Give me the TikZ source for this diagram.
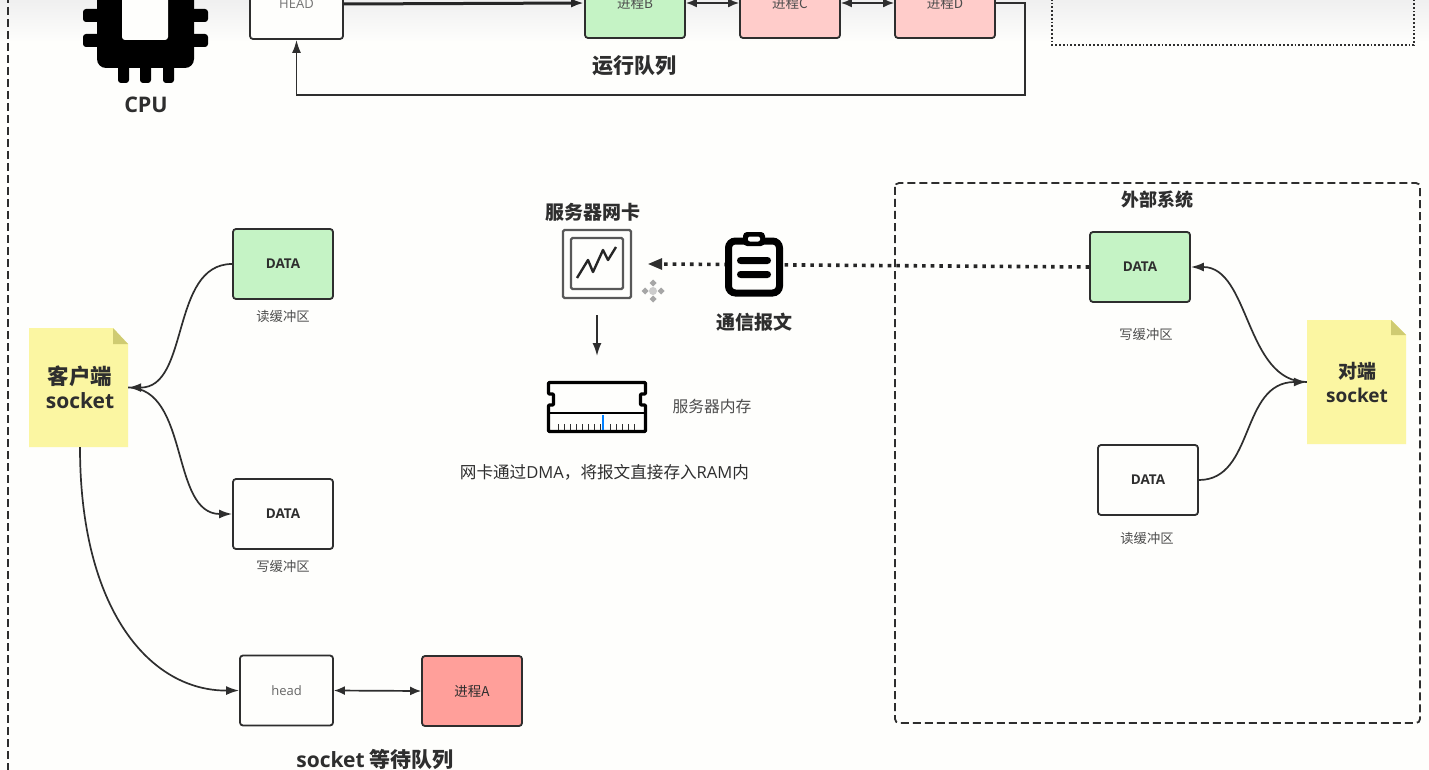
\documentclass[tikz,border=0pt]{standalone}
\usepackage{fontspec}
\setmainfont{Noto Sans CJK SC}
\newfontfamily\latf{Open Sans}
\usetikzlibrary{arrows.meta,calc}
\definecolor{ink}{HTML}{2E2E2E}
\definecolor{paper}{HTML}{FEFEFC}
\definecolor{greenbox}{HTML}{C5F3C5}
\definecolor{pinkbox}{HTML}{FFCCCA}
\definecolor{redbox}{HTML}{FF9F9A}
\definecolor{sticky}{HTML}{FBF6A2}
\definecolor{stickyfold}{HTML}{CFCB72}
\newcommand{\fs}[1]{\fontsize{#1}{#1}\selectfont}
\tikzset{
  x=1pt,y=-1pt,
  box/.style={draw=ink,line width=1.8pt,rounded corners=3pt,fill=paper,minimum width=#1,minimum height=70pt,inner sep=0pt,text=ink,font=\fs{13.5}},
  box/.default=100pt,
  databox/.style={box,font=\latf\bfseries\fs{13.5}},
  cap12/.style={text=ink!85,font=\fs{13.3},inner sep=0pt},
  title/.style={text=ink,font=\bfseries\fs{19},inner sep=0pt},
  wire/.style={draw=ink,line width=1.7pt,-{Latex[length=13pt,width=9pt]}},
  wire2/.style={draw=ink,line width=1.7pt,{Latex[length=11pt,width=9pt]}-{Latex[length=11pt,width=9pt]}},
  frame/.style={draw=ink,line width=1.8pt,dash pattern=on 8pt off 4pt},
  iconk/.style={fill=black,draw=none},
}
\begin{document}
\begin{tikzpicture}
\useasboundingbox (0,0) rectangle (1429,770);
\clip (0,0) rectangle (1429,770);
\fill[paper] (0,0) rectangle (1429,770);
\shade[top color=black!6,bottom color=paper] (0,0) rectangle (1429,42);

% outer frames
\draw[frame] (8,-5) -- (8,775);
\draw[frame,rounded corners=4pt] (895,183) rectangle (1420,723);
\draw[draw=ink,line width=1.8pt,dotted] (1052,-5) -- (1052,45) -- (1414,45) -- (1414,-5);
\node[inner sep=0pt,text=ink,font=\bfseries\fs{12}] (dots) at (1126,-3) {.....};

% CPU icon
\fill[iconk,rounded corners=9pt] (97,-20) rectangle (194,68);
\fill[paper,rounded corners=3pt] (122,-20) rectangle (168,40);
\foreach \yy in {9,34}{
  \fill[iconk,rounded corners=3pt] (83,\yy) rectangle (100,\yy+13);
  \fill[iconk,rounded corners=3pt] (191,\yy) rectangle (208,\yy+13);
}
\foreach \xx in {118,140,163}{
  \fill[iconk,rounded corners=3pt] (\xx,62) rectangle (\xx+11,83);
}
\node[title,font=\latf\bfseries\fs{21.5}] (cpu) at (146,105) {CPU};

% run queue
\node[box=93pt] (HEAD) at (296.5,4) {};
\node[inner sep=0pt,text=black!55,font=\latf\fs{13}] (headtxt) at (296.5,4) {HEAD};
\node[box,fill=greenbox] (B) at (635,3) {};
\node[box,fill=pinkbox] (C) at (790,3) {};
\node[box,fill=pinkbox] (D) at (945,3) {};
\node[inner sep=0pt,text=ink!85,font=\fs{13.5}] (tB) at (635,3) {进程B};
\node[inner sep=0pt,text=ink!85,font=\fs{13.5}] (tC) at (790,3) {进程C};
\node[inner sep=0pt,text=ink!85,font=\fs{13.5}] (tD) at (945,3) {进程D};
\draw[wire,line width=3pt,draw=black!85] (HEAD.east) -- (B.west);
\draw[wire2] (B.east) -- (C.west);
\draw[wire2] (C.east) -- (D.west);
\coordinate (rr) at (1025,95);
\draw[wire] (D.east) -| (rr) -| (HEAD.south);
\node[title,font=\bfseries\fs{21}] (runq) at (634,66) {运行队列};

% client side
\fill[sticky] (29,328) -- (113,328) -- (128,344) -- (128,447) -- (29,447) -- cycle;
\fill[stickyfold] (113,328) -- (128,344) -- (113,344) -- cycle;
\node[minimum width=99pt,minimum height=119pt,inner sep=0pt] (client) at (78.5,387.5) {};
\node[inner sep=0pt,text=ink,font=\bfseries\fs{21.5}] (c1) at (80,376) {客户端};
\node[inner sep=0pt,text=ink,font=\latf\bfseries\fs{21}] (c2) at (80,401) {socket};

\node[databox,fill=greenbox] (rd) at (283,264) {DATA};
\node[cap12] (rdc) at (283,316) {读缓冲区};
\node[databox] (wr) at (283,514) {DATA};
\node[cap12] (wrc) at (283,566) {写缓冲区};
\node[box=93pt,text=black!60,font=\latf\fs{13}] (head) at (286.5,690.5) {head};
\node[box,fill=redbox,font=\fs{13.5}] (A) at (472,691) {进程A};
\node[title,font=\bfseries\fs{21}] (waitq) at (375,760) {{\latf socket} 等待队列};

\draw[wire] (rd.west) .. controls (170,264) and (190,388) .. (client.east);
\draw[wire,{Latex[length=13pt,width=9pt]}-] (wr.west) .. controls (170,514) and (190,388) .. (client.east);
\draw[wire] (client.south -| 80,447) .. controls (80,610) and (150,691) .. (head.west);
\draw[wire2] (head.east) -- (A.west);

% NIC
\node[draw=ink!80,line width=2.4pt,rounded corners=1.5pt,minimum width=68pt,minimum height=68pt,inner sep=0pt] (nic) at (597,264) {};
\draw[ink!80,line width=2.4pt,rounded corners=1.5pt] (571,238) rectangle (623,289);
\draw[black!85,line width=2.4pt,line join=round] (577,278) -- (588,260) -- (593,272) -- (603,250) -- (608,260) -- (616,247);
\node[title] (nict) at (593,212) {服务器网卡};

% cursor glyph
\foreach \dx/\dy in {0/-8,0/8,-8/0,8/0}{
  \fill[black!35] (653+\dx,291+\dy) ++(-3.5,0) -- ++(3.5,-3.5) -- ++(3.5,3.5) -- ++(-3.5,3.5) -- cycle;
}
\fill[black!20] (653,291) circle (4);

% RAM
\draw[black,line width=3.4pt,line join=round,rounded corners=1pt,fill=paper]
  (548.5,382.5) -- (645.5,382.5) -- (645.5,394) -- (640.5,394) -- (640.5,405) -- (645.5,405) -- (645.5,431.5)
  -- (548.5,431.5) -- (548.5,405) -- (553.5,405) -- (553.5,394) -- (548.5,394) -- cycle;
\node[inner sep=0pt,minimum width=100pt,minimum height=52pt] (ram) at (597,407) {};
\draw[black,line width=1.8pt] (549,413) -- (645,413);
\foreach \xx in {558,564,570,576,582,588,594,600,610,616,622,628,634}{
  \draw[ink,line width=1pt] (\xx,424) -- (\xx,430);
}
\draw[blue!50!cyan,line width=1.8pt] (603,415) -- (603,430);
\node[inner sep=0pt,text=ink!85,font=\fs{15.8}] (ramt) at (712,407) {服务器内存};
\node[inner sep=0pt,text=ink,font=\fs{16.6}] (dma) at (604.5,472) {网卡通过{\latf DMA}，将报文直接存入{\latf RAM}内};
\coordinate (nicin) at ($(nic.east)+(16,0)$);
\coordinate (ramin) at (597,356);
\coordinate (nicout) at (597,315);
\draw[wire] (nicout) -- (ramin);

% external side
\fill[sticky] (1307,320) -- (1391,320) -- (1406,335) -- (1406,444) -- (1307,444) -- cycle;
\fill[stickyfold] (1391,320) -- (1406,335) -- (1391,335) -- cycle;
\node[minimum width=99pt,minimum height=124pt,inner sep=0pt] (peer) at (1356.5,382) {};
\node[inner sep=0pt,text=ink,font=\bfseries\fs{19}] (p1) at (1357,371) {对端};
\node[inner sep=0pt,text=ink,font=\latf\bfseries\fs{19}] (p2) at (1357,395) {socket};

\node[title,font=\bfseries\fs{18}] (ext) at (1157,200) {外部系统};
\node[databox,fill=greenbox] (ewr) at (1140,267) {DATA};
\node[cap12] (ewrc) at (1146,334) {写缓冲区};
\node[databox] (erd) at (1148,480) {DATA};
\node[cap12] (erdc) at (1147,538) {读缓冲区};
\draw[wire] (peer.west) .. controls (1245,382) and (1250,267) .. (ewr.east);
\draw[wire] (erd.east) .. controls (1255,480) and (1240,382) .. (peer.west);

% message dotted connector
\draw[black!85,line width=3.6pt,dash pattern=on 3.6pt off 5pt] (ewr.west) -- ($(nicin)+(8,0)$);
\fill[ink] (nicin) -- ++(14,-6) -- ++(0,12) -- cycle;

% clipboard
\node[draw=black,line width=7pt,rounded corners=7pt,minimum width=51pt,minimum height=52pt,inner sep=0pt,fill=paper] (clip) at (754,267) {};
\fill[black,rounded corners=4pt] (743,232) rectangle (765,246);
\fill[paper,rounded corners=2pt] (748,236.5) rectangle (760,241.5);
\fill[black,rounded corners=3.5pt] (737,257) rectangle (771,264);
\fill[black,rounded corners=3.5pt] (737,271) rectangle (771,278);
\node[title] (msg) at (754,322) {通信报文};
\end{tikzpicture}
\end{document}
